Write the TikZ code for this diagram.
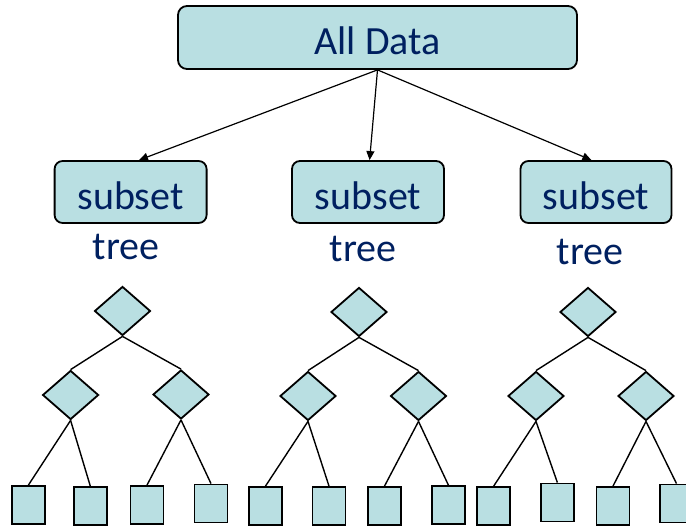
\documentclass[tikz,border=0pt]{standalone}
\usepackage{fontspec}
\setmainfont{Carlito}
\usetikzlibrary{shapes.geometric,arrows.meta,calc}
\definecolor{boxfill}{RGB}{185,223,226}
\definecolor{navy}{RGB}{0,32,96}
\begin{document}
\begin{tikzpicture}[x=1pt,y=-1pt,
  databox/.style={draw=black, line width=1.8pt, fill=boxfill, rounded corners=9pt, inner sep=0pt,
    text=navy, font=\fontsize{40}{48}\selectfont, text height=35pt, text depth=0pt},
  lbl/.style={text=navy, font=\fontsize{40}{48}\selectfont, inner sep=0pt, anchor=base},
  dia/.style={diamond, draw=black, line width=1.8pt, fill=boxfill, minimum width=56pt, minimum height=49pt, inner sep=0pt},
  leaf/.style={rectangle, draw=black, line width=1.8pt, fill=boxfill, minimum width=33pt, minimum height=38pt, inner sep=0pt},
  link/.style={line width=1.4pt},
  arr/.style={line width=1.2pt, -{Triangle[length=9pt,width=8pt]}}]
\useasboundingbox (0,0) rectangle (686,529);
\clip (0,0) rectangle (686,529);

% top box and subsets
\node[databox, minimum width=399pt, minimum height=63pt] (all) at (377.5,37.5) {All Data};
\node[databox, minimum width=152pt, minimum height=62pt, rounded corners=8pt] (s1) at (130.6,192) {subset};
\node[databox, minimum width=152pt, minimum height=62pt, rounded corners=8pt] (s2) at (368,192) {subset};
\node[databox, minimum width=151pt, minimum height=62pt, rounded corners=8pt] (s3) at (596,192) {subset};

\draw[arr] (all.south) -- ($(s1.north)+(8.4,0)$);
\draw[arr] (all.south) -- ($(s2.north)+(1.6,0)$);
\draw[arr] (all.south) -- ($(s3.north)+(-4.6,0)$);

\node[lbl] (t1) at (126,260) {tree};
\node[lbl] (t2) at (363.3,262) {tree};
\node[lbl] (t3) at (590,264.3) {tree};

% left tree
\node[dia] (r1) at (122.5,311) {};
\node[dia] (a1) at (70.6,395) {};
\node[dia] (b1) at (181,394.5) {};
\node[leaf] (l11) at (28.4,505) {};
\node[leaf] (l12) at (90.3,506) {};
\node[leaf] (l13) at (147,505) {};
\node[leaf] (l14) at (211,503.5) {};

% middle tree
\node[dia] (r2) at (359,312) {};
\node[dia] (a2) at (308,396) {};
\node[dia] (b2) at (418.5,396) {};
\node[leaf] (l21) at (265.5,506) {};
\node[leaf] (l22) at (329,506) {};
\node[leaf] (l23) at (384.5,506) {};
\node[leaf] (l24) at (448.4,505) {};

% right tree
\node[dia] (r3) at (588,312) {};
\node[dia] (a3) at (536,396) {};
\node[dia] (b3) at (646,396) {};
\node[leaf] (l31) at (493.7,506) {};
\node[leaf] (l32) at (557.4,502.5) {};
\node[leaf] (l33) at (613,506) {};
\node[leaf] (l34) at (676.5,503.5) {};

\foreach \i in {1,2,3}{
  \draw[link] (r\i.south) -- (a\i.north);
  \draw[link] (r\i.south) -- (b\i.north);
  \draw[link] (a\i.south) -- (l\i1.north);
  \draw[link] (a\i.south) -- (l\i2.north);
  \draw[link] (b\i.south) -- (l\i3.north);
  \draw[link] (b\i.south) -- (l\i4.north);
}
\end{tikzpicture}
\end{document}
